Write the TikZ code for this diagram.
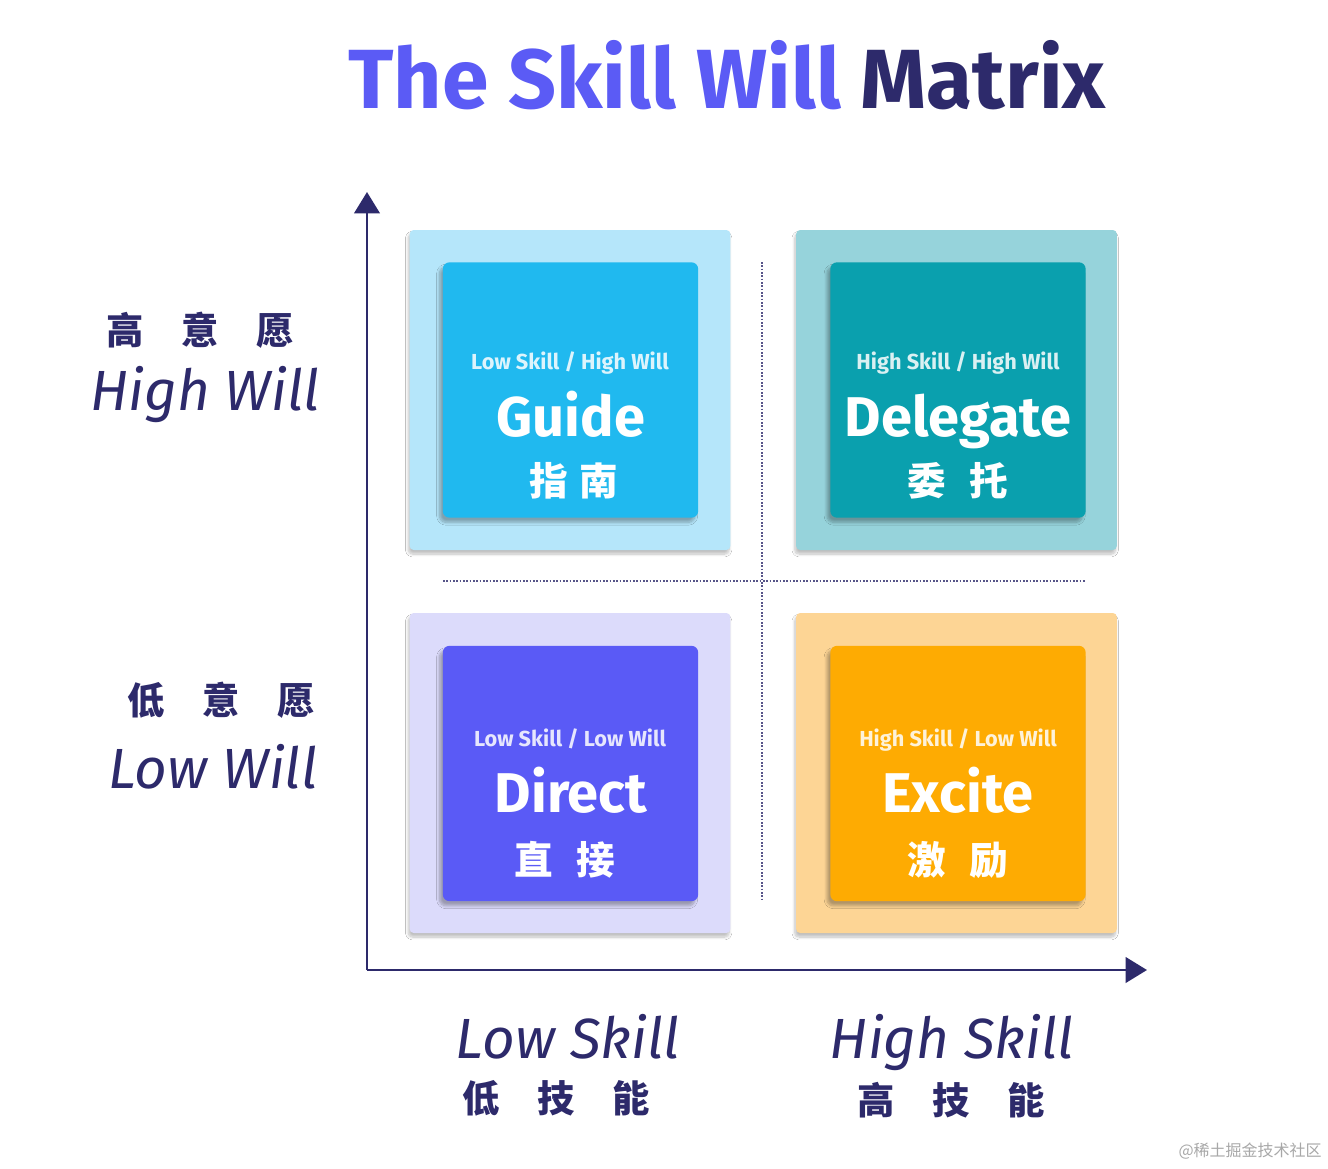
\documentclass[tikz,border=0pt]{standalone}
\usepackage{fontspec}
\setmainfont{Fira Sans}
\newfontfamily\cjk{Noto Sans CJK SC}
\usetikzlibrary{arrows.meta,shadows.blur}
\definecolor{navy}{HTML}{2D2A6B}
\definecolor{titleblue}{HTML}{5B5BF5}
\definecolor{tlout}{HTML}{B5E6FA}
\definecolor{tlin}{HTML}{20B9EF}
\definecolor{trout}{HTML}{96D3DB}
\definecolor{trin}{HTML}{0AA0AE}
\definecolor{blout}{HTML}{DCDBFB}
\definecolor{blin}{HTML}{5A5AF6}
\definecolor{brout}{HTML}{FDD595}
\definecolor{brin}{HTML}{FEAB02}
\definecolor{wmgray}{HTML}{A8A8A8}
\tikzset{
  outerbox/.style={fill=#1, draw=none, rounded corners=3pt, inner sep=0pt,
    minimum width=240.5pt, minimum height=240pt,
    blur shadow={shadow xshift=-1pt, shadow yshift=-3pt, shadow blur steps=8, shadow opacity=25}},
  innerbox/.style={fill=#1, draw=none, rounded corners=5pt, inner sep=0pt,
    minimum width=191.5pt, minimum height=191.5pt,
    blur shadow={shadow xshift=-2.5pt, shadow yshift=-3.5pt, shadow blur steps=8, shadow opacity=30}},
  smalltxt/.style={anchor=base, inner sep=0pt, text=white, text opacity=0.85, font=\fontsize{16.3}{18}\selectfont\bfseries},
  maintxt/.style={anchor=base, inner sep=0pt, text=white, font=\fontsize{42}{44}\selectfont\bfseries},
  cjktxt/.style={anchor=center, inner sep=0pt, text=white, font=\fontsize{29}{31}\selectfont\cjk\bfseries},
  axisen/.style={anchor=base, inner sep=0pt, text=navy, font=\fontsize{42.5}{44}\selectfont\itshape},
  axiscn/.style={anchor=center, inner sep=0pt, text=navy, font=\fontsize{28}{30}\selectfont\cjk\bfseries},
  axisline/.style={draw=navy, line width=2.2pt, -{Triangle[length=16pt,width=19pt]}},
  divider/.style={draw=navy!80, line width=1.3pt, dash pattern=on 1.2pt off 1.3pt},
}
\begin{document}
\begin{tikzpicture}[x=0.75pt,y=-0.75pt]
\useasboundingbox (0,0) rectangle (1328,1168);
\fill[white] (0,0) rectangle (1328,1168);

% title
\node[anchor=base, inner sep=0pt, font=\fontsize{63}{65}\selectfont\bfseries] (title) at (727,108)
  {\textcolor{titleblue}{The Skill Will} \textcolor{navy}{Matrix}};

% outer boxes
\node[outerbox=tlout] (tlo) at (570,390) {};
\node[outerbox=trout] (tro) at (956.5,390) {};
\node[outerbox=blout] (blo) at (570,773) {};
\node[outerbox=brout] (bro) at (956.5,773) {};

% dividers
\coordinate (vtop) at (762,262);
\coordinate (vbot) at (762,900);
\coordinate (hl) at (443,581);
\coordinate (hr) at (1086,581);
\draw[divider] (vtop) -- (vbot);
\draw[divider] (hl) -- (hr);

% inner boxes
\node[innerbox=tlin] (guide) at (570.5,390) {};
\node[innerbox=trin] (delegate) at (958,390) {};
\node[innerbox=blin] (direct) at (570.5,773.5) {};
\node[innerbox=brin] (excite) at (958,773.5) {};

% texts in boxes
\node[smalltxt] (g1) at (570,369) {Low Skill / High Will};
\node[maintxt] (g2) at (571,436) {Guide};
\node[cjktxt] (g3) at (574,481) {指\hspace{9pt}南};

\node[smalltxt] (d1) at (958,369) {High Skill / High Will};
\node[maintxt] (d2) at (958,436) {Delegate};
\node[cjktxt] (d3) at (958,481) {委\hspace{18pt}托};

\node[smalltxt] (r1) at (570,746) {Low Skill / Low Will};
\node[maintxt] (r2) at (571,812) {Direct};
\node[cjktxt] (r3) at (565,860) {直\hspace{18pt}接};

\node[smalltxt] (e1) at (958,746) {High Skill / Low Will};
\node[maintxt] (e2) at (958,812) {Excite};
\node[cjktxt] (e3) at (958,860) {激\hspace{18pt}励};

% axes
\coordinate (O) at (367,970);
\coordinate (ytip) at (367,192);
\coordinate (xtip) at (1147,970);
\draw[axisline] (O) -- (ytip);
\draw[axisline] (O) -- (xtip);

% axis labels
\node[axiscn] (hwcn) at (200,330) {高\hspace{28pt}意\hspace{28pt}愿};
\node[axisen] (hwen) at (205,410) {High Will};
\node[axiscn] (lwcn) at (221,700) {低\hspace{28pt}意\hspace{28pt}愿};
\node[axisen] (lwen) at (213,788) {Low Will};
\node[axisen] (lsen) at (568,1058) {Low Skill};
\node[axiscn] (lscn) at (556,1098) {低\hspace{28pt}技\hspace{28pt}能};
\node[axisen] (hsen) at (952,1058) {High Skill};
\node[axiscn] (hscn) at (951,1100) {高\hspace{28pt}技\hspace{28pt}能};

% watermark
\node[anchor=east, inner sep=0pt, text=wmgray, font=\fontsize{12}{13}\selectfont\cjk] (wm) at (1322,1151) {@稀土掘金技术社区};
\end{tikzpicture}
\end{document}
